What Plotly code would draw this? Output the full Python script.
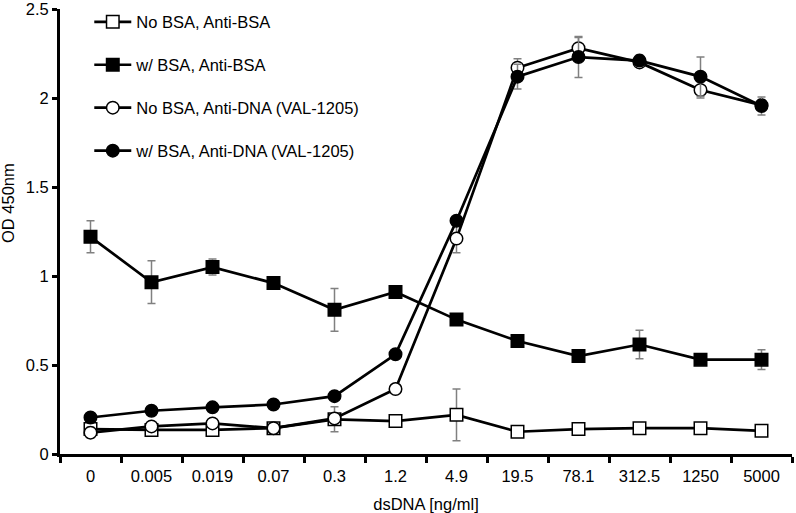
import plotly.graph_objects as go

categories = ["0", "0.005", "0.019", "0.07", "0.3", "1.2", "4.9", "19.5", "78.1", "312.5", "1250", "5000"]

nobsa_antibsa = [0.14, 0.135, 0.135, 0.145, 0.195, 0.185, 0.22, 0.125, 0.14, 0.145, 0.145, 0.13]
nobsa_antibsa_err = [0.02, 0.02, 0.02, 0.015, 0.07, 0.02, 0.145, 0.015, 0.02, 0.015, 0.015, 0.01]

wbsa_antibsa = [1.22, 0.965, 1.05, 0.96, 0.81, 0.91, 0.755, 0.635, 0.55, 0.615, 0.53, 0.53]
wbsa_antibsa_err = [0.09, 0.12, 0.045, 0.015, 0.12, 0.035, 0.015, 0.015, 0.015, 0.08, 0.02, 0.055]

nobsa_antidna = [0.12, 0.155, 0.172, 0.145, 0.20, 0.365, 1.21, 2.17, 2.28, 2.20, 2.045, 1.96]
nobsa_antidna_err = [0.03, 0.01, 0.01, 0.01, 0.03, 0.01, 0.08, 0.05, 0.06, 0.02, 0.045, 0.03]

wbsa_antidna = [0.205, 0.243, 0.262, 0.278, 0.325, 0.56, 1.31, 2.12, 2.23, 2.21, 2.12, 1.955]
wbsa_antidna_err = [0.01, 0.01, 0.01, 0.01, 0.01, 0.01, 0.02, 0.07, 0.115, 0.03, 0.11, 0.05]

series = [
    ("No BSA, Anti-BSA", nobsa_antibsa, nobsa_antibsa_err, "square", "white"),
    ("w/ BSA, Anti-BSA", wbsa_antibsa, wbsa_antibsa_err, "square", "black"),
    ("No BSA, Anti-DNA (VAL-1205)", nobsa_antidna, nobsa_antidna_err, "circle", "white"),
    ("w/ BSA, Anti-DNA (VAL-1205)", wbsa_antidna, wbsa_antidna_err, "circle", "black"),
]

fig = go.Figure()
for i, (name, vals, errs, sym, fill) in enumerate(series):
    fig.add_trace(go.Scatter(
        x=categories, y=vals, name=name, mode="lines+markers",
        legendgroup=f"g{i}",
        line=dict(color="black", width=2.7),
        marker=dict(symbol=sym, size=12.5, color=fill, line=dict(color="black", width=1.5)),
        error_y=dict(type="data", array=errs, visible=True, color="#808080", thickness=1.5, width=4),
    ))

font = "Liberation Sans, Arial, sans-serif"
fig.update_layout(
    width=796, height=513,
    margin=dict(l=60, r=4, t=9, b=59),
    paper_bgcolor="white", plot_bgcolor="white",
    font=dict(family=font, size=16.5, color="black"),
    showlegend=True,
    legend=dict(x=0.04, y=1.01, xanchor="left", yanchor="top", bgcolor="rgba(0,0,0,0)",
                font=dict(size=16.5), tracegroupgap=18.5, itemwidth=37),
    xaxis=dict(type="category", range=[-0.5, 11.5], showline=True, linecolor="black", linewidth=3,
               ticks="outside", tickson="boundaries", ticklen=6, tickwidth=3, tickcolor="black",
               ticklabelstandoff=5, tickfont=dict(size=16.5), ticklabeloverflow="allow",
               showgrid=False, zeroline=False, automargin=False,
               title=dict(text="dsDNA [ng/ml]", font=dict(size=16.5))),
    yaxis=dict(range=[0, 2.5], tickvals=[0, 0.5, 1, 1.5, 2, 2.5], ticktext=["0", "0.5", "1", "1.5", "2", "2.5"],
               showline=True, linecolor="black", linewidth=3,
               ticks="outside", ticklen=5, tickwidth=3, tickcolor="black", tickfont=dict(size=16.5),
               ticklabeloverflow="allow",
               showgrid=False, zeroline=False, automargin=False),
    annotations=[dict(text="OD 450nm", textangle=-90, xref="paper", yref="paper",
                      x=-0.071, y=0.564, xanchor="center", yanchor="middle",
                      showarrow=False, font=dict(size=16.5))],
)

fig.write_html("out.html", config={"displayModeBar": False},
               post_script="document.body.style.margin='0';document.body.style.overflow='hidden';")
